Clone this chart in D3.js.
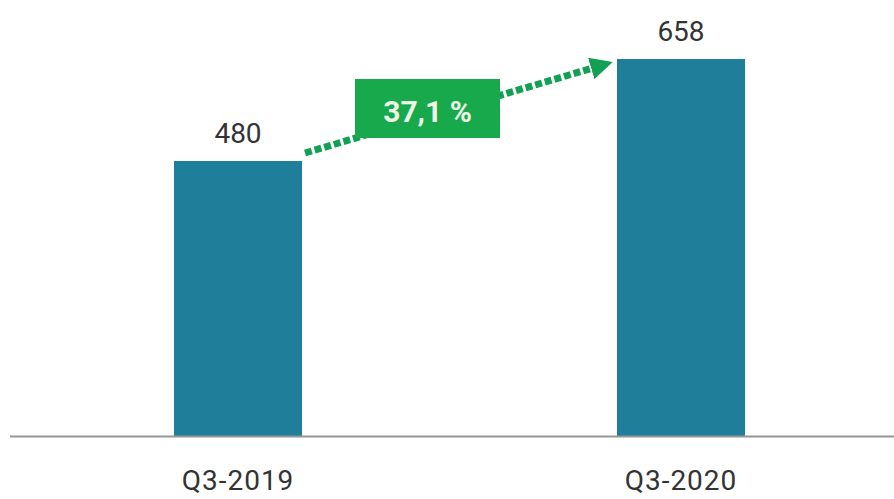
<!DOCTYPE html>
<html>
<head>
<meta charset="utf-8">
<script src="https://cdn.jsdelivr.net/npm/d3@7"></script>
<style>
  html, body { margin: 0; padding: 0; background: #fff; }
  svg { display: block; }
</style>
</head>
<body>
<div id="chart"></div>
<script>
// data
const categories = ["Q3-2019", "Q3-2020"];
const values = [480, 658];
const growthLabel = "37,1 %";

const W = 894, H = 499;
const baseline = 436;
const font = "Roboto, 'DejaVu Sans Condensed', sans-serif";

const svg = d3.select("#chart").append("svg")
  .attr("width", W)
  .attr("height", H);

// scales
const x = d3.scaleBand()
  .domain(categories)
  .range([85.4, 833.6])
  .paddingInner(0.711)
  .paddingOuter(0.2);

const y = d3.scaleLinear()
  .domain([0, 658])
  .range([baseline, 59]);

// bars
svg.selectAll(".bar")
  .data(values)
  .enter().append("rect")
  .attr("class", "bar")
  .attr("x", (d, i) => x(categories[i]))
  .attr("y", d => y(d))
  .attr("width", x.bandwidth())
  .attr("height", d => baseline - y(d))
  .attr("fill", "#1f7f9b");

// baseline axis
const axis = svg.append("g")
  .attr("transform", "translate(0," + baseline + ")")
  .call(d3.axisBottom(x).tickSize(0).tickPadding(0));
axis.select(".domain")
  .attr("d", "M10,0.5H894")
  .attr("stroke", "#959595")
  .attr("stroke-width", 2);
axis.selectAll("text")
  .attr("dy", null)
  .attr("y", 54)
  .attr("font-family", font)
  .attr("font-size", 28)
  .attr("letter-spacing", 1)
  .attr("fill", "#333");

// value labels
svg.selectAll(".val")
  .data(values)
  .enter().append("text")
  .attr("class", "val")
  .attr("x", (d, i) => x(categories[i]) + x.bandwidth() / 2)
  .attr("y", d => y(d) - 18)
  .attr("text-anchor", "middle")
  .attr("font-family", font)
  .attr("font-size", 28)
  .attr("fill", "#333")
  .text(d => d);

// growth arrow (dotted), from top-right of bar 1 to top-left of bar 2
const sx = x(categories[0]) + x.bandwidth() + 3, sy = y(values[0]) - 8;
const tx = x(categories[1]) - 4, ty = y(values[1]) + 3;
const len = Math.hypot(tx - sx, ty - sy);
const ux = (tx - sx) / len, uy = (ty - sy) / len;
const headOut = 7; // tip sticks out past line end

svg.append("defs").append("marker")
  .attr("id", "arrow")
  .attr("viewBox", "0 0 10 10")
  .attr("refX", 7).attr("refY", 5)
  .attr("markerWidth", 3.2).attr("markerHeight", 3.2)
  .attr("markerUnits", "strokeWidth")
  .attr("orient", "auto")
  .append("path")
  .attr("d", "M0,0L10,5L0,10Z")
  .attr("fill", "#12a055");

svg.append("line")
  .attr("x1", sx).attr("y1", sy)
  .attr("x2", tx - ux * headOut).attr("y2", ty - uy * headOut)
  .attr("stroke", "#12a055")
  .attr("stroke-width", 7)
  .attr("stroke-dasharray", "7,3")
  .attr("marker-end", "url(#arrow)");

// growth box
const bx = 355, by = 79, bw = 145, bh = 59;
svg.append("rect")
  .attr("x", bx).attr("y", by)
  .attr("width", bw).attr("height", bh)
  .attr("fill", "#17a94b");

svg.append("text")
  .attr("x", bx + bw / 2)
  .attr("y", 122)
  .attr("text-anchor", "middle")
  .attr("font-family", font)
  .attr("font-weight", "bold")
  .attr("font-size", 30)
  .attr("fill", "#eef5e8")
  .text(growthLabel);
</script>
</body>
</html>
